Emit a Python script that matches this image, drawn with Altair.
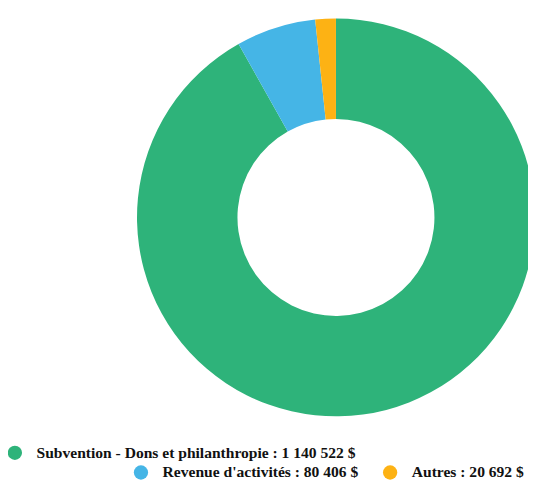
import altair as alt
import pandas as pd

categories = ["Subvention - Dons et philanthropie", "Revenue d'activités", "Autres"]
values = [1140522, 80406, 20692]
labels = ["1 140 522 $", "80 406 $", "20 692 $"]
colors = ["#2eb37a", "#45b5e6", "#fdb214"]

df = pd.DataFrame({
    "cat": categories,
    "value": values,
    "label": [f"{c} : {l}" for c, l in zip(categories, labels)],
    "order": list(range(len(categories))),
})

color_scale = alt.Scale(domain=categories, range=colors)

base = alt.Chart(df)

cx, cy = 333, 209

donut = base.mark_arc(innerRadius=100, outerRadius=202, stroke=None).encode(
    theta=alt.Theta("value:Q", stack=True),
    order=alt.Order("order:Q"),
    color=alt.Color("cat:N", scale=color_scale, legend=None),
    x=alt.value(cx),
    y=alt.value(cy),
)

legend_pos = [(7, 448), (135, 468), (388, 468)]

layers = [donut]
for i, (lx, ly) in enumerate(legend_pos):
    sub = base.transform_filter(alt.datum.order == i)
    layers.append(sub.mark_circle(size=210, opacity=1).encode(
        x=alt.value(lx), y=alt.value(ly),
        color=alt.Color("cat:N", scale=color_scale, legend=None)))
    layers.append(sub.mark_text(align="left", baseline="middle", font="Liberation Serif",
                                fontWeight="bold", fontSize=15.8, color="#111111").encode(
        x=alt.value(lx + 22), y=alt.value(ly), text="label:N"))

chart = alt.layer(*layers).properties(
    width=528, height=473, padding=0,
    autosize=alt.AutoSizeParams(type="none"),
).configure_view(stroke=None)

chart.save("out.html", embed_options={"renderer": "svg", "actions": False})
